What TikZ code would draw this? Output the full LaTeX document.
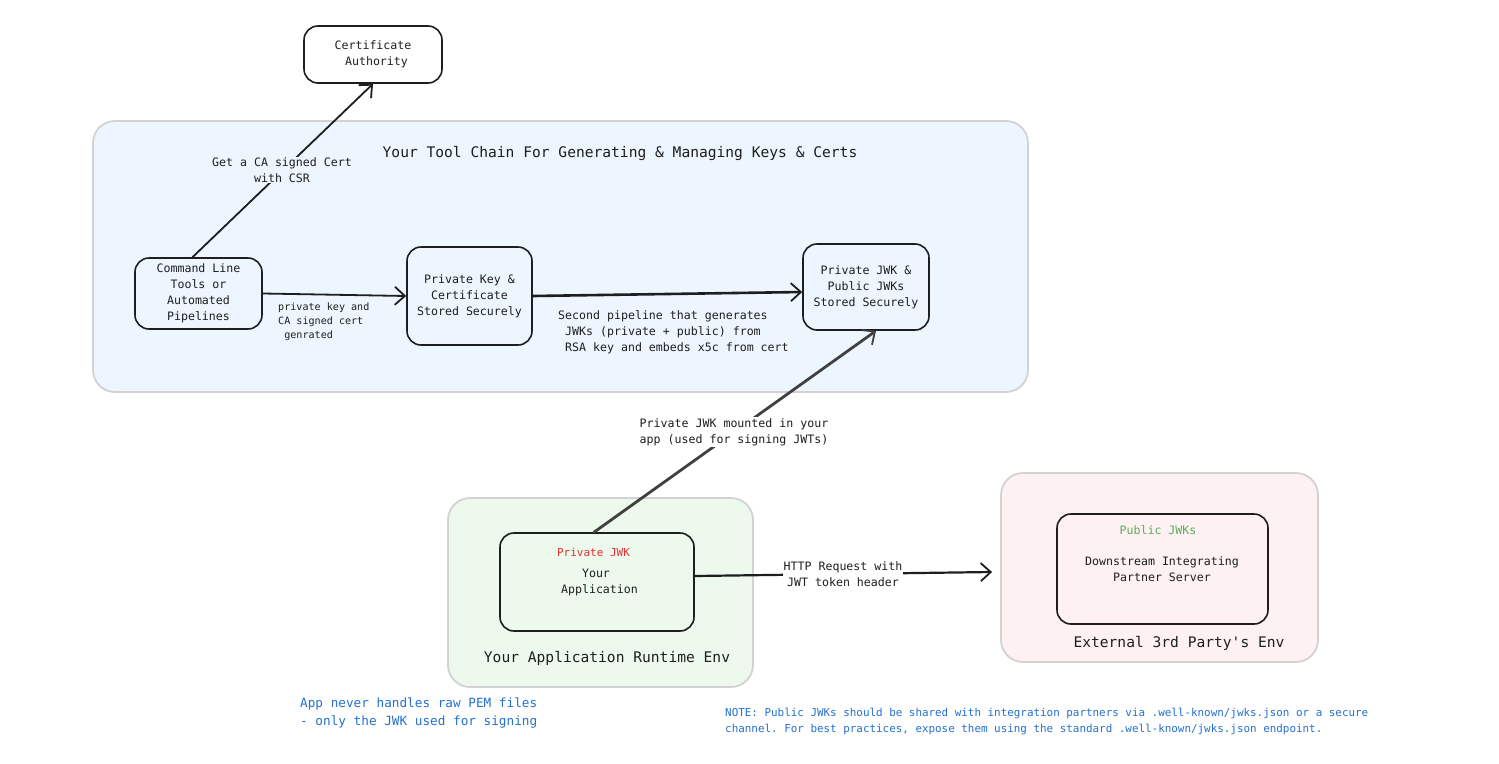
\documentclass[tikz,border=0pt]{standalone}
\usepackage{fontspec}
\setmonofont{DejaVu Sans Mono}
\usetikzlibrary{arrows.meta}
\definecolor{ink}{HTML}{1E1E1E}
\definecolor{bluebg}{HTML}{EDF5FE}
\definecolor{greenbg}{HTML}{EEF9EE}
\definecolor{pinkbg}{HTML}{FDF2F1}
\definecolor{frame}{HTML}{D2D2D2}
\definecolor{redtxt}{HTML}{E03131}
\definecolor{greentxt}{HTML}{5DAA5D}
\definecolor{bluetxt}{HTML}{2470D0}
\begin{document}
\begin{tikzpicture}[x=1pt,y=-1pt,
  box/.style={draw=ink, line width=1.6pt, rounded corners=14pt, inner sep=0pt,
    font=\fontsize{11.6}{16}\selectfont\ttfamily, text=ink, align=center},
  container/.style={draw=frame, line width=1.8pt, rounded corners=22pt, inner sep=0pt},
  txt/.style={font=\fontsize{11.6}{16}\selectfont\ttfamily, text=ink, align=center, inner sep=1pt},
  smalltxt/.style={font=\fontsize{10.1}{14}\selectfont\ttfamily, text=ink, align=left, inner sep=1pt},
  titletxt/.style={font=\fontsize{14.6}{18}\selectfont\ttfamily, text=ink, inner sep=0pt},
  conn/.style={draw=ink, line width=1.8pt, line cap=round, -{Straight Barb[length=10pt,width=18pt,line width=1.8pt]}},
]
\useasboundingbox (0,0) rectangle (1499,763);

% containers
\node[container, fill=bluebg, minimum width=935pt, minimum height=271pt] (toolchain) at (560.5,256.5) {};
\node[container, fill=greenbg, minimum width=305pt, minimum height=189pt] (appenv) at (600.5,592.5) {};
\node[container, fill=pinkbg, minimum width=317pt, minimum height=189pt] (extenv) at (1159.5,567.5) {};

\node[titletxt] (tctitle) at (620,153) {Your Tool Chain For Generating \& Managing Keys \& Certs};
\node[titletxt] (aetitle) at (607,658) {Your Application Runtime Env};
\node[titletxt] (eetitle) at (1179,643) {External 3rd Party's Env};

% boxes
\node[box, minimum width=138pt, minimum height=57pt] (ca) at (373,54.5) {Certificate\\~Authority};
\node[box, minimum width=127pt, minimum height=71pt] (cmd) at (198.5,293.5) {Command Line\\Tools or\\Automated\\Pipelines};
\node[box, minimum width=125pt, minimum height=98pt] (pk) at (469.5,296) {Private Key \&\\Certificate\\Stored Securely};
\node[box, minimum width=126pt, minimum height=86pt] (jwk) at (866,287) {Private JWK \&\\Public JWKs\\Stored Securely};
\node[box, minimum width=194pt, minimum height=98pt] (app) at (597,582) {};
\node[box, minimum width=211pt, minimum height=110pt] (ds) at (1162.5,569) {};

\node[txt, text=redtxt, font=\fontsize{11}{14}\selectfont\ttfamily] (apptag) at (593.5,552) {Private JWK};
\node[txt] (applbl) at (596,582) {Your\\~Application};
\node[txt, text=greentxt] (dstag) at (1158,530) {Public JWKs};
\node[txt] (dslbl) at (1162,569) {Downstream Integrating\\Partner Server};

% connectors
\draw[conn] ([xshift=-6pt]cmd.north) -- (ca.south);
\node[txt, fill=bluebg] (csrlbl) at (282,170) {Get a CA signed Cert\\with CSR};

\draw[conn] (cmd.east) -- (pk.west);
\node[smalltxt, anchor=north west] (pklbl) at (277,302) {private key and\\CA signed cert\\~genrated};

\draw[conn, line width=2.6pt] (pk.east) -- ([yshift=-5pt]jwk.west);
\node[txt, align=left, anchor=west] (jwklbl) at (557,332) {Second pipeline that generates\\~JWKs (private + public) from\\~RSA key and embeds x5c from cert};

\draw[conn, draw=ink!85, line width=2.8pt] ([xshift=-3pt]app.north) -- ([xshift=10pt]jwk.south);
\node[txt, align=left, fill=white] (mountlbl) at (734,432) {Private JWK mounted in your\\app (used for signing JWTs)};

\draw[conn, line width=2.2pt] ([yshift=6pt]app.east) -- ([xshift=-8pt,yshift=-4.5pt]extenv.west);
\node[txt, fill=white] (httplbl) at (843,574) {HTTP Request with\\JWT token header};

% notes
\node[anchor=west, align=left, text=bluetxt, font=\fontsize{12.7}{18}\selectfont\ttfamily, inner sep=0pt] (note1) at (300,713) {App never handles raw PEM files\\- only the JWK used for signing};
\node[anchor=west, align=left, text=bluetxt, font=\fontsize{10.9}{16}\selectfont\ttfamily, inner sep=0pt] (note2) at (725,721) {NOTE: Public JWKs should be shared with integration partners via .well-known/jwks.json or a secure\\channel. For best practices, expose them using the standard .well-known/jwks.json endpoint.};
\end{tikzpicture}
\end{document}
